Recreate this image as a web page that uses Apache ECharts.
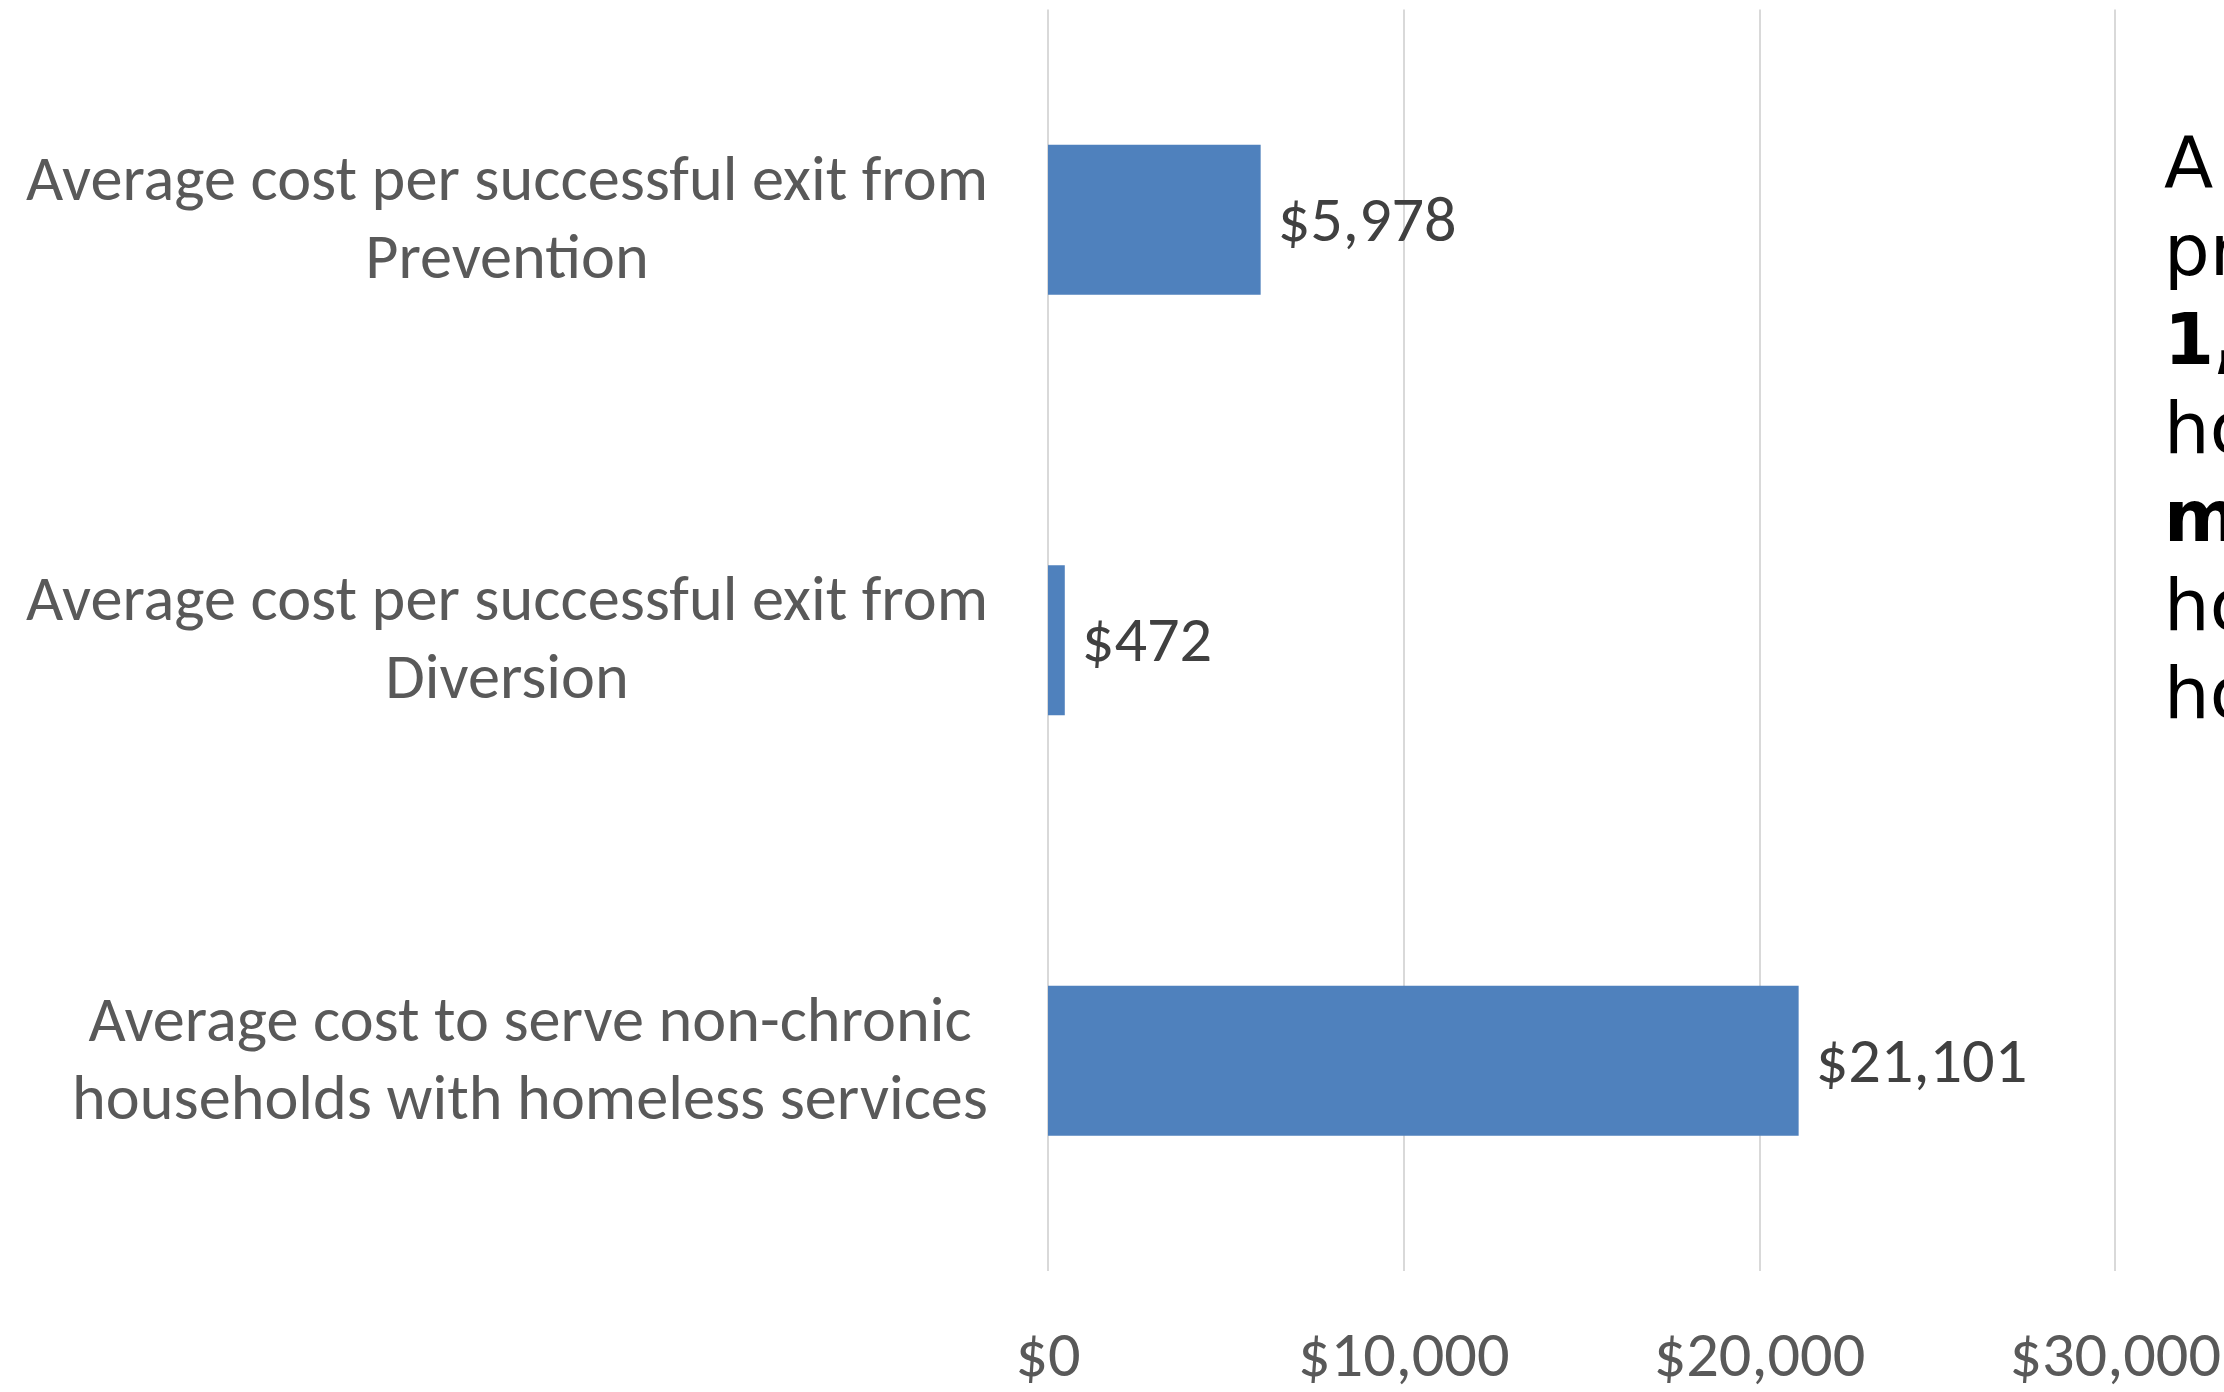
<!DOCTYPE html>
<html>
<head>
<meta charset="utf-8">
<script src="https://cdn.jsdelivr.net/npm/echarts@6/dist/echarts.min.js"></script>
<style>
html,body{margin:0;padding:0;background:#ffffff;overflow:hidden}
#c{width:2224px;height:1392px}
</style>
</head>
<body>
<div id="c"></div>
<script>
// ---- data ----
const categories = [
  "Average cost per successful exit from\nPrevention",
  "Average cost per successful exit from\nDiversion",
  "Average cost to serve non-chronic\nhouseholds with homeless services"
];
const values = [5978, 472, 21101];
const valueLabels = ["$5,978", "$472", "$21,101"];
const xTickLabels = ["$0", "$10,000", "$20,000", "$30,000"];
const sideLines = [
  ["A diversion", false],
  ["program serves", false],
  ["1,200", true],
  ["households,", false],
  ["more", true],
  ["households", false],
  ["housed.", false]
];

// ---- pick a narrow font and fit its size to the reference width ----
function pickFont() {
  const cv = document.createElement('canvas');
  const ctx = cv.getContext('2d');
  const sample = "Average cost per successful exit from";
  const base = (f) => { ctx.font = '100px ' + f; return ctx.measureText(sample).width; };
  const mono = base('monospace'), serif = base('serif');
  const cands = ['Carlito', 'Liberation Sans Narrow', 'DejaVu Sans Condensed', 'Lato', 'Roboto', 'Liberation Sans'];
  for (const c of cands) {
    const w1 = base('"' + c + '",monospace'), w2 = base('"' + c + '",serif');
    if (w1 !== mono || w2 !== serif) {
      const size = Math.round(962 / (w1 / 100) * 10) / 10;
      return { family: '"' + c + '"', size };
    }
  }
  return { family: 'sans-serif', size: 56 };
}
const F = pickFont();
const labelFont = F.family + ', sans-serif';
const fs = Math.min(F.size, 72);

const chart = echarts.init(document.getElementById('c'), null, { renderer: 'canvas' });

const sideFont = '"DejaVu Sans", "Noto Sans", sans-serif';
const sideRich = {
  n: { fontFamily: sideFont, fontSize: 72, fontWeight: 'normal', color: '#000000', lineHeight: 88.6 },
  b: { fontFamily: sideFont, fontSize: 72, fontWeight: 'bold', color: '#000000', lineHeight: 88.6 }
};
const sideText = sideLines.map(([t, bold]) => '{' + (bold ? 'b' : 'n') + '|' + t + '}').join('\n');

chart.setOption({
  backgroundColor: '#ffffff',
  animation: false,
  grid: { left: 1048, right: 106, top: 9.5, bottom: 113, containLabel: false },
  xAxis: {
    type: 'value',
    min: 0,
    max: 30000,
    interval: 10000,
    axisLine: { show: false },
    axisTick: { show: false },
    splitLine: { show: true, lineStyle: { color: '#d9d9d9', width: 2 } },
    axisLabel: {
      margin: 57,
      color: '#595959',
      fontFamily: labelFont,
      fontSize: fs,
      formatter: (v) => xTickLabels[Math.round(v / 10000)]
    }
  },
  yAxis: {
    type: 'category',
    inverse: true,
    data: categories,
    axisLine: { show: false },
    axisTick: { show: false },
    axisLabel: {
      margin: 60,
      color: '#595959',
      fontFamily: labelFont,
      fontSize: fs,
      lineHeight: 78,
      formatter: (v) => v.split('\n').map(s => '{c|' + s + '}').join('\n'),
      rich: {
        c: { align: 'center', color: '#595959', fontFamily: labelFont, fontSize: fs, lineHeight: 78, padding: [6, 0, 0, 0] }
      }
    }
  },
  series: [{
    type: 'bar',
    data: values,
    barWidth: 150,
    itemStyle: { color: '#4f81bd' },
    label: {
      show: true,
      position: 'right',
      distance: 17,
      offset: [0, 5],
      color: '#404040',
      fontFamily: labelFont,
      fontSize: fs,
      formatter: (p) => valueLabels[p.dataIndex]
    }
  }],
  graphic: [{
    type: 'text',
    left: 2164,
    top: 132,
    z: 10,
    style: {
      text: sideText,
      rich: sideRich,
      fill: '#000000'
    }
  }]
});
</script>
</body>
</html>
